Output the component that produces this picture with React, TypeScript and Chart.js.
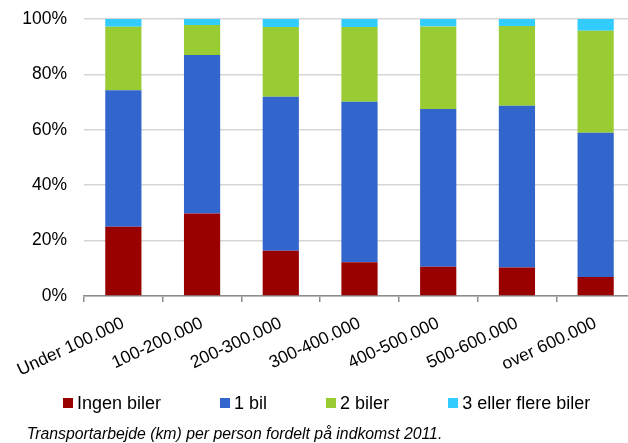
import React, { useEffect, useRef } from "react";
import { Chart, registerables } from "chart.js";

Chart.register(...registerables);

const categories = [
  "Under 100.000",
  "100-200.000",
  "200-300.000",
  "300-400.000",
  "400-500.000",
  "500-600.000",
  "over 600.000",
];
const seriesNames = ["Ingen biler", "1 bil", "2 biler", "3 eller flere biler"];
const ingenBiler = [25.0, 29.8, 16.3, 12.2, 10.6, 10.3, 6.9];
const enBil = [49.3, 57.2, 55.6, 57.9, 56.9, 58.4, 52.0];
const toBiler = [22.9, 10.8, 25.2, 27.0, 29.8, 28.8, 36.9];
const treEllerFlere = [2.8, 2.2, 2.9, 2.9, 2.7, 2.5, 4.2];
const seriesColors = ["#990000", "#3366cc", "#99cc33", "#33ccff"];
const yMin = 0;
const yMax = 100;
const yStep = 20;
const caption = "Transportarbejde (km) per person fordelt på indkomst 2011.";

const FONT = '"Liberation Sans", Arial, Helvetica, sans-serif';

export default function App() {
  const canvasRef = useRef<HTMLCanvasElement | null>(null);

  useEffect(() => {
    if (!canvasRef.current) return;
    const values = [ingenBiler, enBil, toBiler, treEllerFlere];
    const chart = new Chart(canvasRef.current, {
      type: "bar",
      data: {
        labels: categories,
        datasets: seriesNames.map((name, i) => ({
          label: name,
          data: values[i],
          backgroundColor: seriesColors[i],
          borderWidth: 0,
          categoryPercentage: 1,
          barPercentage: 0.46,
        })),
      },
      options: {
        animation: false,
        responsive: true,
        maintainAspectRatio: false,
        devicePixelRatio: 1,
        layout: { padding: { top: 19, right: 5, bottom: 57, left: 0 } },
        plugins: {
          legend: { display: false },
          tooltip: { enabled: false },
        },
        scales: {
          x: {
            stacked: true,
            afterFit: (scale: any) => {
              scale.height = 90;
            },
            border: { color: "#8c8c8c", width: 1.5 },
            grid: {
              offset: true,
              drawOnChartArea: false,
              drawTicks: true,
              tickLength: 6,
              color: "#8c8c8c",
              lineWidth: 1.5,
            },
            ticks: {
              color: "#000",
              font: { family: FONT, size: 17.5 },
              minRotation: 25,
              maxRotation: 25,
              autoSkip: false,
              padding: 11,
            },
          },
          y: {
            stacked: true,
            min: yMin,
            max: yMax,
            afterFit: (scale: any) => {
              scale.width = 84;
            },
            border: { display: false },
            grid: {
              color: "#d6d6d6",
              lineWidth: 1.5,
              drawTicks: true,
              tickLength: 17,
              tickColor: "rgba(0,0,0,0)",
            },
            ticks: {
              stepSize: yStep,
              color: "#000",
              padding: 0,
              font: { family: FONT, size: 17.5 },
              callback: (v: any) => `${v}%`,
            },
          },
        },
      },
    });
    return () => chart.destroy();
  }, []);

  return (
    <div
      style={{
        position: "absolute",
        left: 0,
        top: 0,
        width: 628,
        height: 443,
        overflow: "hidden",
        background: "#fff",
      }}
    >
      <div style={{ position: "absolute", left: 0, top: 0, width: 640, height: 443 }}>
        <canvas ref={canvasRef} />
      </div>
      <div
        style={{
          position: "absolute",
          left: 63,
          top: 393.8,
          display: "flex",
          alignItems: "center",
          gap: 59,
          fontFamily: FONT,
          fontSize: 18,
          lineHeight: 1,
          color: "#000",
          whiteSpace: "nowrap",
        }}
      >
        {seriesNames.map((name, i) => (
          <div key={name} style={{ display: "flex", alignItems: "center" }}>
            <span
              style={{
                display: "inline-block",
                width: 10,
                height: 10,
                background: seriesColors[i],
                marginRight: 4,
              }}
            />
            <span>{name}</span>
          </div>
        ))}
      </div>
      <div
        style={{
          position: "absolute",
          left: 26.7,
          top: 426.3,
          fontFamily: FONT,
          fontStyle: "italic",
          fontSize: 15.8,
          lineHeight: 1,
          color: "#000",
          whiteSpace: "nowrap",
        }}
      >
        {caption}
      </div>
    </div>
  );
}
